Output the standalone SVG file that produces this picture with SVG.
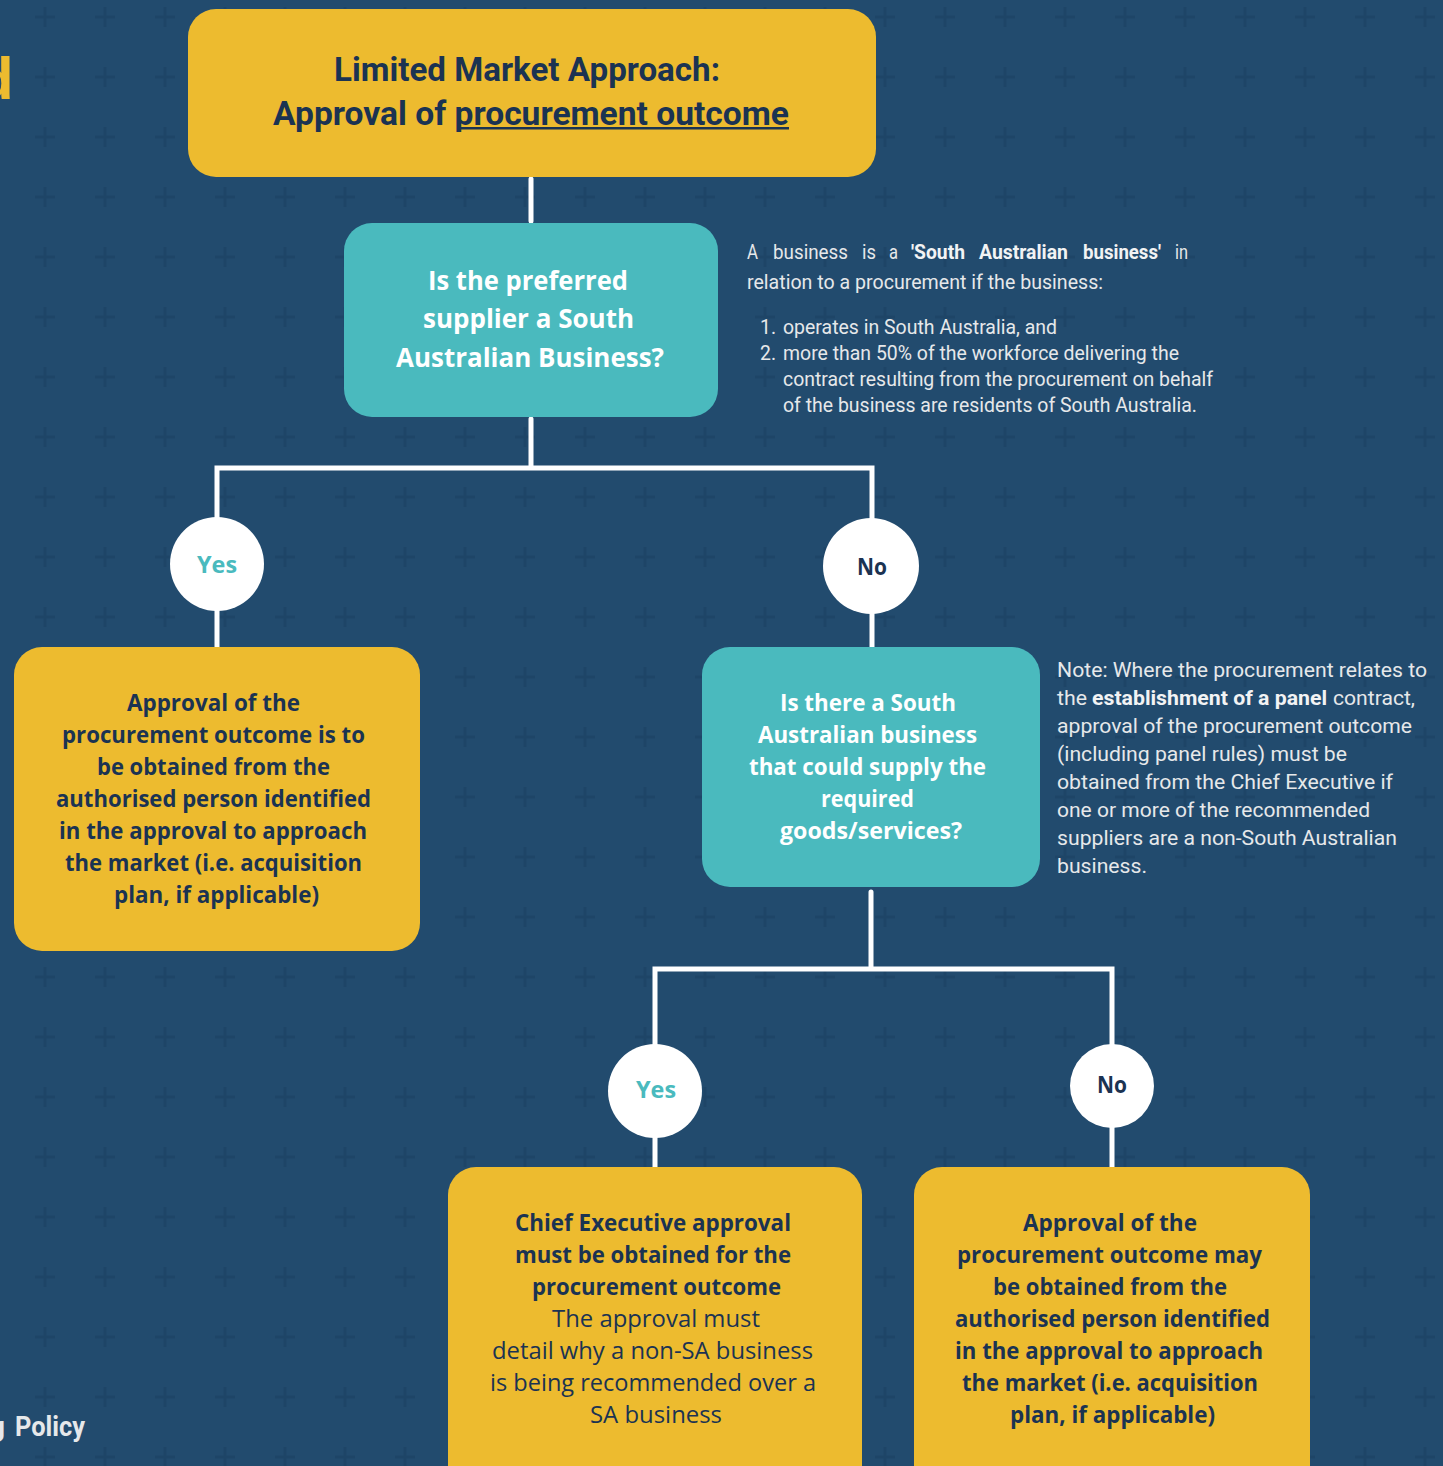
<svg xmlns="http://www.w3.org/2000/svg" width="1443" height="1466" viewBox="0 0 1443 1466">
<defs>
<pattern id="plus" x="15" y="-13" width="60" height="60" patternUnits="userSpaceOnUse">
<path d="M20,30 H40 M30,20 V40" stroke="#1E4567" stroke-width="3" fill="none"/>
</pattern>
<style>
.yl{fill:#EDBB2F}
.tl{fill:#4ABABE}
.circ{fill:#FFFFFF}
.con{stroke:#FFFFFF;stroke-width:5;fill:none;stroke-linecap:round;stroke-linejoin:miter}
.title{font-family:Roboto,"Liberation Sans",sans-serif;font-weight:700;font-size:34px;fill:#1B3352}
.nb{font-family:"Open Sans","Noto Sans",sans-serif;font-weight:700;font-size:24px;fill:#1B3352}
.nr{font-family:"Open Sans","Noto Sans",sans-serif;font-weight:400;font-size:24px;fill:#1B3352}
.wb{font-family:"Open Sans","Noto Sans",sans-serif;font-weight:700;font-size:24px;fill:#FFFFFF}
.wb1{font-family:"Open Sans","Noto Sans",sans-serif;font-weight:700;font-size:27px;fill:#FFFFFF}
.note{font-family:Roboto,"Liberation Sans",sans-serif;font-weight:400;font-size:21px;fill:#E6E8EA}
.noteb{font-family:Roboto,"Liberation Sans",sans-serif;font-weight:700;font-size:21px;fill:#F2F3F4}
.yes{font-family:"Open Sans","Noto Sans",sans-serif;font-weight:700;font-size:23px;fill:#4ABABE}
.no{font-family:"Open Sans","Noto Sans",sans-serif;font-weight:700;font-size:23px;fill:#1B3352}
.side{font-family:Roboto,"Liberation Sans",sans-serif;font-weight:700;font-size:28px;fill:#E6E8EA}
</style>
</defs>
<rect width="1443" height="1466" fill="#224B6E"/>
<rect width="1443" height="1466" fill="url(#plus)"/>

<g id="page-fragments">
<text x="-23" y="99" style="font-family:'Liberation Sans',sans-serif;font-weight:700;font-size:60px;fill:#EDBB2F">d</text>
<text x="-11" y="1436" class="side">g</text>
<text x="15" y="1436" class="side" textLength="70" lengthAdjust="spacingAndGlyphs">Policy</text>
</g>

<g id="connectors">
<path class="con" d="M531,179 V221"/>
<path class="con" d="M531,419 V468 M217,647 V468 H872 V647"/>
<path class="con" d="M871,892 V969 M655,1167 V969 H1112 V1167"/>
</g>

<g id="title">
<rect class="yl" x="188" y="9" width="688" height="168" rx="28"/>
<text class="title" x="334" y="81" textLength="386" lengthAdjust="spacingAndGlyphs">Limited Market Approach:</text>
<text class="title" x="273" y="125" textLength="516" lengthAdjust="spacingAndGlyphs">Approval of procurement outcome</text>
<rect x="458" y="127" width="331" height="2.5" fill="#1B3352"/>
</g>

<g id="q1">
<rect class="tl" x="344" y="223" width="374" height="194" rx="28"/>
<text class="wb1" x="428" y="290" textLength="200" lengthAdjust="spacingAndGlyphs">Is the preferred</text>
<text class="wb1" x="423" y="328" textLength="211" lengthAdjust="spacingAndGlyphs">supplier a South</text>
<text class="wb1" x="396" y="367" textLength="268" lengthAdjust="spacingAndGlyphs">Australian Business?</text>
</g>

<g id="definition">
<text class="note" x="747" y="259" textLength="11" lengthAdjust="spacingAndGlyphs">A</text>
<text class="note" x="773" y="259" textLength="75" lengthAdjust="spacingAndGlyphs">business</text>
<text class="note" x="862" y="259" textLength="14" lengthAdjust="spacingAndGlyphs">is</text>
<text class="note" x="889" y="259" textLength="9" lengthAdjust="spacingAndGlyphs">a</text>
<text class="noteb" x="911" y="259" textLength="54" lengthAdjust="spacingAndGlyphs">'South</text>
<text class="noteb" x="979" y="259" textLength="89" lengthAdjust="spacingAndGlyphs">Australian</text>
<text class="noteb" x="1083" y="259" textLength="78" lengthAdjust="spacingAndGlyphs">business'</text>
<text class="note" x="1175" y="259" textLength="13" lengthAdjust="spacingAndGlyphs">in</text>
<text class="note" x="747" y="289" textLength="356" lengthAdjust="spacingAndGlyphs">relation to a procurement if the business:</text>
<text class="note" x="760" y="334" textLength="16" lengthAdjust="spacingAndGlyphs">1.</text>
<text class="note" x="783" y="334" textLength="274" lengthAdjust="spacingAndGlyphs">operates in South Australia, and</text>
<text class="note" x="760" y="360" textLength="16" lengthAdjust="spacingAndGlyphs">2.</text>
<text class="note" x="783" y="360" textLength="396" lengthAdjust="spacingAndGlyphs">more than 50% of the workforce delivering the</text>
<text class="note" x="783" y="386" textLength="430" lengthAdjust="spacingAndGlyphs">contract resulting from the procurement on behalf</text>
<text class="note" x="783" y="412" textLength="414" lengthAdjust="spacingAndGlyphs">of the business are residents of South Australia.</text>
</g>

<g id="yes1">
<circle class="circ" cx="217" cy="564" r="47"/>
<text class="yes" x="197" y="573" textLength="40" lengthAdjust="spacingAndGlyphs">Yes</text>
</g>

<g id="no1">
<circle class="circ" cx="871" cy="566" r="48"/>
<text class="no" x="857" y="575" textLength="30" lengthAdjust="spacingAndGlyphs">No</text>
</g>

<g id="outcome-sa">
<rect class="yl" x="14" y="647" width="406" height="304" rx="28"/>
<text class="nb" x="127" y="711" textLength="173" lengthAdjust="spacingAndGlyphs">Approval of the</text>
<text class="nb" x="62" y="743" textLength="303" lengthAdjust="spacingAndGlyphs">procurement outcome is to</text>
<text class="nb" x="97" y="775" textLength="233" lengthAdjust="spacingAndGlyphs">be obtained from the</text>
<text class="nb" x="56" y="807" textLength="315" lengthAdjust="spacingAndGlyphs">authorised person identified</text>
<text class="nb" x="59" y="839" textLength="308" lengthAdjust="spacingAndGlyphs">in the approval to approach</text>
<text class="nb" x="65" y="871" textLength="297" lengthAdjust="spacingAndGlyphs">the market (i.e. acquisition</text>
<text class="nb" x="114" y="903" textLength="205" lengthAdjust="spacingAndGlyphs">plan, if applicable)</text>
</g>

<g id="q2">
<rect class="tl" x="702" y="647" width="338" height="240" rx="28"/>
<text class="wb" x="780" y="711" textLength="176" lengthAdjust="spacingAndGlyphs">Is there a South</text>
<text class="wb" x="758" y="743" textLength="219" lengthAdjust="spacingAndGlyphs">Australian business</text>
<text class="wb" x="749" y="775" textLength="237" lengthAdjust="spacingAndGlyphs">that could supply the</text>
<text class="wb" x="821" y="807" textLength="93" lengthAdjust="spacingAndGlyphs">required</text>
<text class="wb" x="780" y="839" textLength="182" lengthAdjust="spacingAndGlyphs">goods/services?</text>
</g>

<g id="panel-note">
<text class="note" x="1057" y="677" textLength="370" lengthAdjust="spacingAndGlyphs">Note: Where the procurement relates to</text>
<text class="note" x="1057" y="705" textLength="30" lengthAdjust="spacingAndGlyphs">the</text>
<text class="noteb" x="1092" y="705" textLength="235" lengthAdjust="spacingAndGlyphs">establishment of a panel</text>
<text class="note" x="1333" y="705" textLength="82" lengthAdjust="spacingAndGlyphs">contract,</text>
<text class="note" x="1057" y="733" textLength="355" lengthAdjust="spacingAndGlyphs">approval of the procurement outcome</text>
<text class="note" x="1057" y="761" textLength="290" lengthAdjust="spacingAndGlyphs">(including panel rules) must be</text>
<text class="note" x="1057" y="789" textLength="336" lengthAdjust="spacingAndGlyphs">obtained from the Chief Executive if</text>
<text class="note" x="1057" y="817" textLength="313" lengthAdjust="spacingAndGlyphs">one or more of the recommended</text>
<text class="note" x="1057" y="845" textLength="340" lengthAdjust="spacingAndGlyphs">suppliers are a non-South Australian</text>
<text class="note" x="1057" y="873" textLength="90" lengthAdjust="spacingAndGlyphs">business.</text>
</g>

<g id="yes2">
<circle class="circ" cx="655" cy="1091" r="47"/>
<text class="yes" x="636" y="1098" textLength="40" lengthAdjust="spacingAndGlyphs">Yes</text>
</g>

<g id="no2">
<circle class="circ" cx="1112" cy="1086" r="42"/>
<text class="no" x="1097" y="1093" textLength="30" lengthAdjust="spacingAndGlyphs">No</text>
</g>

<g id="outcome-ce">
<rect class="yl" x="448" y="1167" width="414" height="340" rx="28"/>
<text class="nb" x="515" y="1231" textLength="276" lengthAdjust="spacingAndGlyphs">Chief Executive approval</text>
<text class="nb" x="515" y="1263" textLength="276" lengthAdjust="spacingAndGlyphs">must be obtained for the</text>
<text class="nb" x="532" y="1295" textLength="249" lengthAdjust="spacingAndGlyphs">procurement outcome</text>
<text class="nr" x="552" y="1327" textLength="208" lengthAdjust="spacingAndGlyphs">The approval must</text>
<text class="nr" x="492" y="1359" textLength="321" lengthAdjust="spacingAndGlyphs">detail why a non-SA business</text>
<text class="nr" x="490" y="1391" textLength="326" lengthAdjust="spacingAndGlyphs">is being recommended over a</text>
<text class="nr" x="590" y="1423" textLength="132" lengthAdjust="spacingAndGlyphs">SA business</text>
</g>

<g id="outcome-nosa">
<rect class="yl" x="914" y="1167" width="396" height="340" rx="28"/>
<text class="nb" x="1023" y="1231" textLength="174" lengthAdjust="spacingAndGlyphs">Approval of the</text>
<text class="nb" x="957" y="1263" textLength="305" lengthAdjust="spacingAndGlyphs">procurement outcome may</text>
<text class="nb" x="993" y="1295" textLength="234" lengthAdjust="spacingAndGlyphs">be obtained from the</text>
<text class="nb" x="955" y="1327" textLength="315" lengthAdjust="spacingAndGlyphs">authorised person identified</text>
<text class="nb" x="955" y="1359" textLength="308" lengthAdjust="spacingAndGlyphs">in the approval to approach</text>
<text class="nb" x="962" y="1391" textLength="296" lengthAdjust="spacingAndGlyphs">the market (i.e. acquisition</text>
<text class="nb" x="1010" y="1423" textLength="205" lengthAdjust="spacingAndGlyphs">plan, if applicable)</text>
</g>
</svg>
